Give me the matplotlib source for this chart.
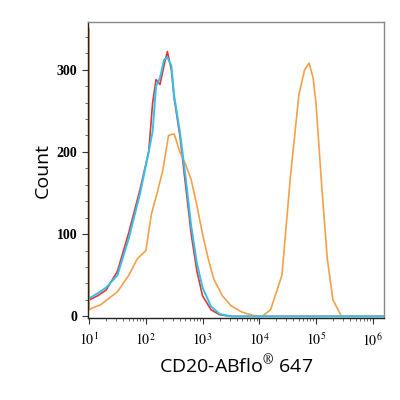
import matplotlib
matplotlib.use("Agg")
import matplotlib.pyplot as plt
import numpy as np
from matplotlib.ticker import LogLocator, MultipleLocator, NullFormatter

red_x = [1.0,1.15,1.3,1.5,1.7,1.9,2.05,2.12,2.18,2.25,2.32,2.38,2.45,2.5,2.6,2.7,2.8,2.9,3.0,3.15,3.3,3.5,6.2]
red_y = [20,25,32,55,102,155,200,260,288,282,305,322,300,265,220,160,100,55,25,8,2,0,0]
blue_x = [1.0,1.15,1.3,1.5,1.7,1.9,2.05,2.12,2.18,2.25,2.32,2.38,2.45,2.5,2.6,2.7,2.8,2.9,3.0,3.15,3.3,3.5,6.2]
blue_y = [22,28,35,50,95,150,200,225,280,290,312,315,305,268,225,170,110,65,35,12,3,0,0]
orange_x = [1.0,1.0,1.05,1.2,1.5,1.7,1.85,2.0,2.1,2.2,2.3,2.4,2.5,2.6,2.7,2.8,2.9,3.0,3.1,3.2,3.35,3.5,3.7,3.9,4.05,4.2,4.4,4.55,4.7,4.8,4.88,4.95,5.0,5.1,5.2,5.3,5.45,6.2]
orange_y = [350,8,10,14,30,50,70,80,125,150,178,220,222,200,185,166,135,100,70,45,25,13,5,1,0,8,50,170,270,300,308,290,260,160,70,20,0,0]

plt.rcParams['mathtext.fontset'] = 'stix'
fig = plt.figure(figsize=(4,4), dpi=100)
ax = fig.add_axes([0.22, 0.205, 0.74, 0.74])
ax.plot(10**np.array(red_x), red_y, color='#e8333a', lw=1.2)
ax.plot(10**np.array(orange_x), orange_y, color='#f4a04a', lw=1.2)
ax.plot(10**np.array(blue_x), blue_y, color='#2ec4ea', lw=1.4)
ax.set_xscale('log')
ax.set_xlim(10**0.98, 10**6.2)
ax.set_ylim(-2, 358)
ax.xaxis.set_minor_locator(LogLocator(base=10, subs=np.arange(2,10), numticks=10))
ax.xaxis.set_minor_formatter(NullFormatter())
ax.set_xticks([10**k for k in range(1,7)])
ax.set_xticklabels([f'$10^{k}$' for k in range(1,7)])
ax.yaxis.set_major_locator(MultipleLocator(100))
ax.yaxis.set_minor_locator(MultipleLocator(20))
for lab in ax.get_xticklabels()+ax.get_yticklabels():
    lab.set_fontfamily('Liberation Serif'); lab.set_fontsize(10)
for lab in ax.get_yticklabels():
    lab.set_fontweight('bold')
ax.tick_params(axis='both', which='major', length=4, color='#333')
ax.tick_params(axis='both', which='minor', length=2, color='#555')
ax.tick_params(axis='x', pad=6)
for s in ax.spines.values():
    s.set_color('#888'); s.set_linewidth(1)
ax.spines['left'].set_color('#222'); ax.spines['bottom'].set_color('#222')
ax.set_xlabel('CD20-ABflo$^{®}$ 647', fontsize=14, family='Open Sans')
ax.set_ylabel('Count', fontsize=14, family='Open Sans')
fig.savefig('out.png', dpi=100)
